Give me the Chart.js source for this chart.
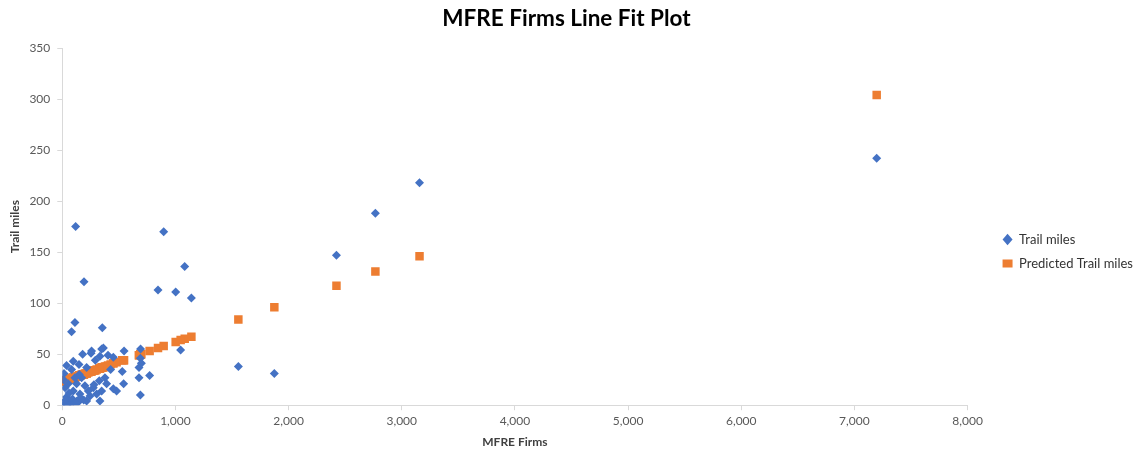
<!DOCTYPE html>
<html>
<head>
<meta charset="utf-8">
<script src="https://cdn.jsdelivr.net/npm/chart.js@4.4.1/dist/chart.umd.min.js"></script>
<style>
  html, body { margin: 0; padding: 0; background: #fff; }
  #wrap { width: 1136px; height: 453px; }
</style>
</head>
<body>
<div id="wrap"><canvas id="myChart"></canvas></div>
<script>
// MFRE firms (x) for every observation
const firms = [118, 896, 192, 1082, 846, 1002, 1141, 112, 82, 354, 1046, 1556, 1874, 2423, 2767, 3157, 7197,
  692, 690, 699, 678, 772, 678, 690, 530, 480, 542, 546, 363, 348, 259, 254, 180, 333, 451, 292, 97, 38,
  215, 148, 427, 15, 377, 327, 392, 53, 127, 200, 274, 451, 348, 97, 156, 245, 38, 333, 68, 141, 215, 304,
  112, 171, 82, 404, 5, 20, 30, 45, 75, 90, 110, 130, 160, 190, 230, 280, 60, 25, 150, 10];
// observed trail miles
const trailMiles = [175, 170, 121, 136, 113, 111, 105, 81, 72, 76, 54, 38, 31, 147, 188, 218, 242,
  55, 46, 41, 37, 29, 27, 10, 33, 14, 21, 53, 56, 55, 53, 51, 50, 48, 47, 44, 43, 39,
  37, 40, 35, 31, 27, 24, 21, 21, 21, 19, 17, 16, 14, 14, 11, 9, 8, 4, 3, 3, 4, 11,
  27, 27, 35, 49, 2, 1, 5, 0, 1, 6, 2, 4, 7, 5, 14, 20, 12, 17, 30, 25];
// predicted trail miles
const predMiles = [28, 58, 30, 65, 56, 62, 67, 27, 26, 37, 64, 84, 96, 117, 131, 146, 304,
  50, 50, 50, 49, 53, 49, 50, 44, 42, 44, 44, 37, 37, 33, 33, 30, 36, 41, 34, 27, 24,
  31, 29, 40, 24, 38, 36, 38, 25, 28, 31, 34, 41, 37, 27, 29, 33, 24, 36, 26, 28, 31, 35,
  27, 30, 26, 39, 23, 24, 24, 25, 26, 27, 27, 28, 29, 30, 32, 34, 25, 24, 29, 23];

const xTicks = [0, 1000, 2000, 3000, 4000, 5000, 6000, 7000, 8000];
const yTicks = [0, 50, 100, 150, 200, 250, 300, 350];

const ctx = document.getElementById('myChart');
const fontFam = 'Lato, "Open Sans", sans-serif';

// nudge the title a little to the left, like the original
const titleShift = {
  id: 'titleShift',
  afterLayout(chart) {
    const tb = chart.titleBlock;
    if (tb) { tb.left -= 9; tb.right -= 9; }
  }
};

let myChart = new Chart(ctx, {
  type: 'scatter',
  data: {
    datasets: [{
      label: 'Trail miles',
      data: firms.map((f, i) => ({ x: f, y: trailMiles[i] })),
      pointStyle: 'rectRot',
      pointRadius: 4.5,
      backgroundColor: '#4472C4',
      borderColor: '#4472C4',
      borderWidth: 0
    }, {
      label: 'Predicted Trail miles',
      data: firms.map((f, i) => ({ x: f, y: predMiles[i] })),
      pointStyle: 'rect',
      pointRadius: 6,
      backgroundColor: '#ED7D31',
      borderColor: '#ED7D31',
      borderWidth: 0
    }]
  },
  options: {
    responsive: true,
    maintainAspectRatio: false,
    animation: false,
    layout: { padding: { left: 8, right: -7, top: 0, bottom: 4 } },
    plugins: {
      title: {
        display: true,
        text: 'MFRE Firms Line Fit Plot',
        color: '#000',
        font: { family: fontFam, size: 22.5, weight: 'bold' },
        padding: { top: 5, bottom: 16 }
      },
      legend: {
        position: 'right',
        title: {
          display: true,
          text: ' ',
          font: { family: fontFam, size: 10 },
          padding: { top: 0, bottom: 42 }
        },
        labels: {
          usePointStyle: true,
          pointStyleWidth: 10,
          boxHeight: 8,
          color: '#333',
          font: { family: fontFam, size: 13 },
          padding: 11
        }
      },
      tooltip: { enabled: false }
    },
    scales: {
      x: {
        type: 'linear',
        min: 0,
        max: 8000,
        afterBuildTicks: axis => { axis.ticks = xTicks.map(v => ({ value: v })); },
        ticks: {
          color: '#595959',
          font: { family: fontFam, size: 12 },
          padding: 4,
          callback: v => v.toLocaleString('en-US')
        },
        grid: { drawOnChartArea: false, drawTicks: true, tickLength: 5, color: '#d9d9d9' },
        border: { color: '#d9d9d9' },
        title: {
          display: true,
          text: 'MFRE Firms',
          color: '#404040',
          font: { family: fontFam, size: 12, weight: 'bold' },
          padding: { top: 2, bottom: 0 }
        }
      },
      y: {
        min: 0,
        max: 350,
        afterBuildTicks: axis => { axis.ticks = yTicks.map(v => ({ value: v })); },
        ticks: {
          color: '#595959',
          font: { family: fontFam, size: 12 },
          padding: 7
        },
        grid: { drawOnChartArea: false, drawTicks: true, tickLength: 5, color: '#d9d9d9' },
        border: { color: '#d9d9d9' },
        title: {
          display: true,
          text: 'Trail miles',
          color: '#404040',
          font: { family: fontFam, size: 12, weight: 'bold' },
          padding: { top: 0, bottom: 0 }
        }
      },
      // empty spacer between the plot and the legend
      spacer: {
        type: 'linear',
        axis: 'y',
        position: 'right',
        grid: { display: false },
        border: { display: false },
        ticks: { display: false },
        afterFit: s => { s.width = 24; }
      }
    }
  },
  plugins: [titleShift]
});
</script>
</body>
</html>
